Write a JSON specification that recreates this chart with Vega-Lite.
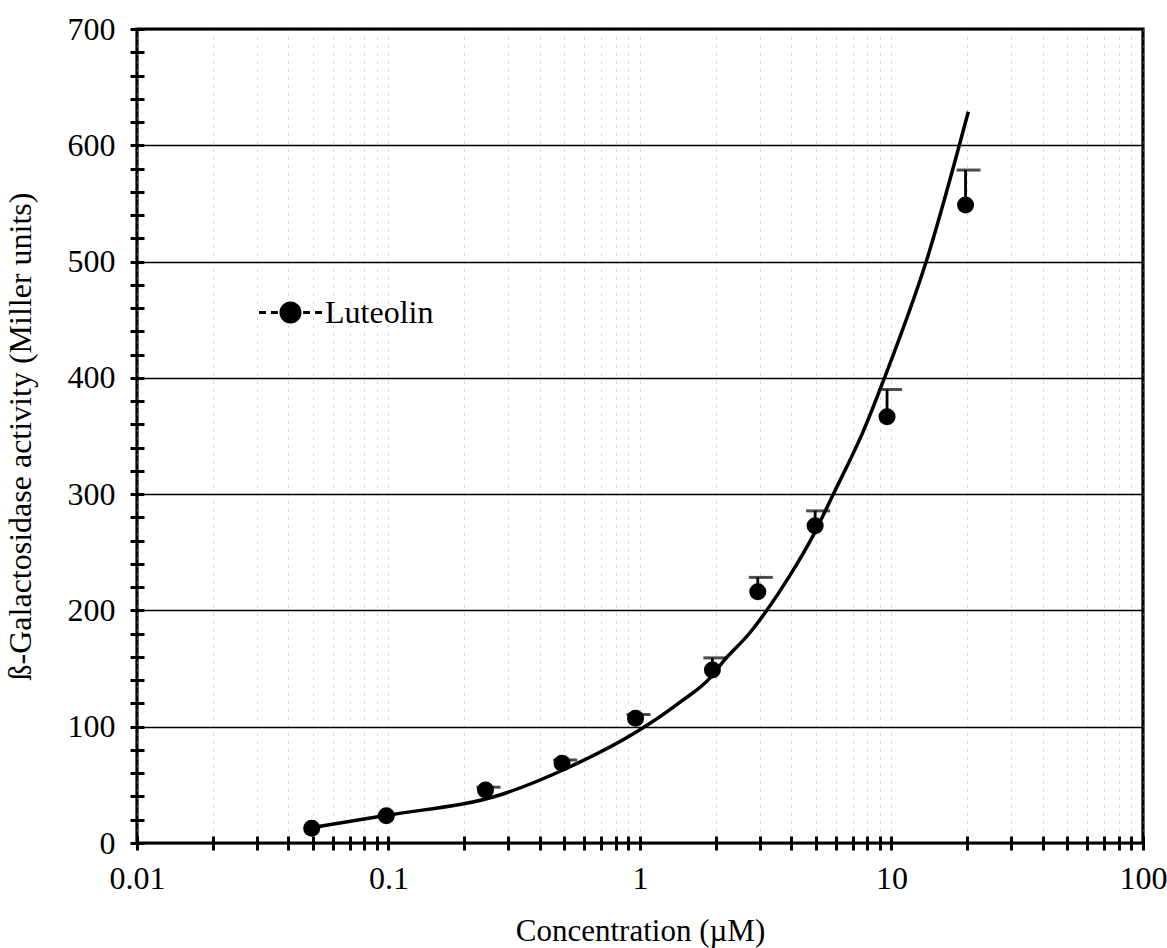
{
  "$schema": "https://vega.github.io/schema/vega-lite/v6.json",
  "width": 1006,
  "height": 814,
  "autosize": {"type": "none"},
  "padding": {"left": 137, "top": 29, "right": 24, "bottom": 105},
  "background": "white",
  "config": {
    "view": {"stroke": "black", "strokeWidth": 3.2},
    "font": "Liberation Serif",
    "axis": {
      "labelFont": "Liberation Serif",
      "titleFont": "Liberation Serif",
      "labelColor": "black",
      "titleColor": "black",
      "titleFontWeight": "normal",
      "tickColor": "black",
      "domain": false
    }
  },
  "datasets": {
    "points": [
      {"conc": 0.0495, "activity": 12.6, "err": 12.6, "series": "Luteolin"},
      {"conc": 0.098, "activity": 23.5, "err": 23.5, "series": "Luteolin"},
      {"conc": 0.243, "activity": 45.6, "err": 48, "series": "Luteolin"},
      {"conc": 0.49, "activity": 68.5, "err": 71.4, "series": "Luteolin"},
      {"conc": 0.96, "activity": 107.2, "err": 110.6, "series": "Luteolin"},
      {"conc": 1.94, "activity": 148.8, "err": 159.2, "series": "Luteolin"},
      {"conc": 2.94, "activity": 216.1, "err": 228.4, "series": "Luteolin"},
      {"conc": 4.97, "activity": 272.8, "err": 285.6, "series": "Luteolin"},
      {"conc": 9.6, "activity": 366.6, "err": 390, "series": "Luteolin"},
      {"conc": 19.7, "activity": 548.6, "err": 578.7, "series": "Luteolin"}
    ],
    "curve": [
      {"conc": 0.052, "fit": 14},
      {"conc": 0.1, "fit": 24},
      {"conc": 0.277, "fit": 41.3},
      {"conc": 0.527, "fit": 65.6},
      {"conc": 0.97, "fit": 95.7},
      {"conc": 1.44, "fit": 121},
      {"conc": 1.9, "fit": 142},
      {"conc": 2.14, "fit": 156},
      {"conc": 2.74, "fit": 181},
      {"conc": 3.19, "fit": 200},
      {"conc": 3.89, "fit": 228},
      {"conc": 4.89, "fit": 264.8},
      {"conc": 5.9, "fit": 301},
      {"conc": 7.72, "fit": 354},
      {"conc": 9.42, "fit": 401},
      {"conc": 13.8, "fit": 501.3},
      {"conc": 20.2, "fit": 628.8}
    ]
  },
  "encoding": {
    "x": {
      "field": "conc",
      "type": "quantitative",
      "scale": {"type": "log", "domain": [0.01, 100], "nice": false},
      "axis": {
        "title": "Concentration (\u00b5M)",
        "titleFontSize": 31,
        "titlePadding": 22,
        "labelFontSize": 32,
        "offset": -7,
        "tickSize": 14,
        "tickWidth": 3,
        "labelPadding": 13,
        "labelOverlap": false,
        "labelFlush": false,
        "labelBound": false,
        "values": [0.01, 0.02, 0.03, 0.04, 0.05, 0.06, 0.07, 0.08, 0.09, 0.1, 0.2, 0.3, 0.4, 0.5, 0.6, 0.7, 0.8, 0.9, 1, 2, 3, 4, 5, 6, 7, 8, 9, 10, 20, 30, 40, 50, 60, 70, 80, 90, 100],
        "labelExpr": "abs(log(datum.value)/LN10 - round(log(datum.value)/LN10)) < 0.000001 ? format(datum.value, '~g') : ''",
        "grid": true,
        "gridColor": "#9a9a9a",
        "gridDash": [2, 6],
        "gridWidth": 1,
        "gridOpacity": 0.55
      }
    },
    "y": {
      "type": "quantitative",
      "scale": {"domain": [0, 700], "nice": false},
      "axis": {
        "title": "\u00df-Galactosidase activity (Miller units)",
        "titleFontSize": 32,
        "titlePadding": 30,
        "labelFontSize": 32,
        "offset": -7,
        "tickSize": 14,
        "tickWidth": 3,
        "labelPadding": 15,
        "labelOverlap": false,
        "labelBound": false,
        "labelFlush": false,
        "values": [0, 20, 40, 60, 80, 100, 120, 140, 160, 180, 200, 220, 240, 260, 280, 300, 320, 340, 360, 380, 400, 420, 440, 460, 480, 500, 520, 540, 560, 580, 600, 620, 640, 660, 680, 700],
        "labelExpr": "datum.value % 100 === 0 ? datum.label : ''",
        "grid": true,
        "gridColor": "black",
        "gridWidth": 1.6,
        "gridOpacity": {"condition": {"test": "datum.value % 100 === 0", "value": 1}, "value": 0}
      }
    }
  },
  "layer": [
    {
      "data": {"name": "curve"},
      "mark": {"type": "line", "color": "black", "strokeWidth": 3.5, "interpolate": "monotone"},
      "encoding": {"y": {"field": "fit", "type": "quantitative"}}
    },
    {
      "data": {"name": "points"},
      "transform": [{"filter": "datum.err > datum.activity"}],
      "mark": {"type": "rule", "color": "black", "strokeWidth": 2.8},
      "encoding": {
        "y": {"field": "activity", "type": "quantitative"},
        "y2": {"field": "err"}
      }
    },
    {
      "data": {"name": "points"},
      "transform": [{"filter": "datum.err > datum.activity"}],
      "mark": {"type": "tick", "orient": "horizontal", "color": "black", "size": 24, "thickness": 3, "xOffset": 3},
      "encoding": {
        "y": {"field": "err", "type": "quantitative"}
      }
    },
    {
      "data": {"name": "points"},
      "mark": {"type": "point", "shape": "circle", "filled": true, "size": 290, "opacity": 1},
      "encoding": {
        "y": {"field": "activity", "type": "quantitative"},
        "fill": {
          "field": "series",
          "type": "nominal",
          "scale": {"range": ["black"]},
          "legend": {
            "title": null,
            "orient": "none",
            "legendX": 122,
            "legendY": 252,
            "padding": 0,
            "symbolType": "M-1,-0.045H-0.78V0.045H-1Z M-0.62,-0.045H-0.4V0.045H-0.62Z M0.4,-0.045H0.62V0.045H0.4Z M0.78,-0.045H1V0.045H0.78Z M-0.35,0A0.35,0.35 0 1,0 0.35,0A0.35,0.35 0 1,0 -0.35,0Z",
            "symbolSize": 3969,
            "symbolFillColor": "black",
            "symbolStrokeWidth": 0,
            "symbolOpacity": 1,
            "labelFont": "Liberation Serif",
            "labelFontSize": 32,
            "labelColor": "black",
            "labelOffset": 3,
            "labelLimit": 400
          }
        }
      }
    }
  ]
}
